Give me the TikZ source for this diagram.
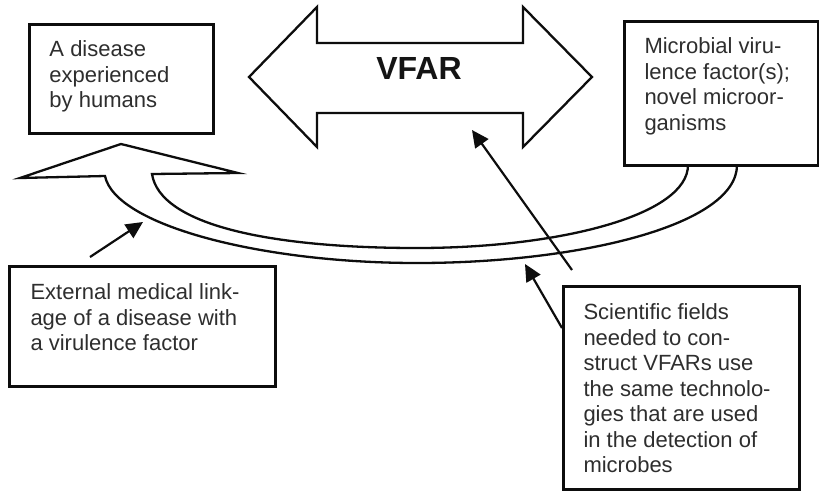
\documentclass[tikz,border=0pt]{standalone}
\usepackage{fontspec}
\setmainfont{Liberation Sans}
\usetikzlibrary{arrows.meta,calc}

% framed panel: width, height, left pad, top pad, lines
\newcommand\paneltext[5]{%
  \vbox to #2{\vskip#4\relax
    \hbox to #1{\hskip#3\relax
      \parbox[t]{\dimexpr#1-#3\relax}{\fontsize{22}{25.5}\selectfont\raggedright
        \rule{0pt}{18pt}#5}\hss}\vss}}

\tikzset{
  panel/.style={draw=black!95, line width=3pt, inner sep=0pt, anchor=north west,
                text=black!82, fill=white},
  outline/.style={draw=black!95, line width=2.3pt, line join=miter, fill=white},
  pointer/.style={draw=black!95, line width=2.2pt,
                  -{Triangle[length=17pt,width=16pt]}},
}

\begin{document}
\begin{tikzpicture}[x=1pt,y=-1pt]
\useasboundingbox[fill=white] (0,0) rectangle (819,491);

% two-headed VFAR arrow
\draw[outline] (249,77) -- (317,7) -- (317,43) -- (523,43) -- (523,7)
  -- (592,77) -- (523,147) -- (523,113) -- (317,113) -- (317,147) -- cycle;
\node[font=\bfseries\fontsize{32}{36}\selectfont, text=black!92, inner sep=0pt]
  (vfar) at (419,68.5) {VFAR};

% curved hollow arrow from the virulence factors back to the disease
\draw[outline] (121,144) -- (238,173) -- (152,174)
  .. controls (160,225) and (270,248) .. (417,248)
  .. controls (560,248) and (688,215) .. (688,165)
  -- (737,165)
  .. controls (737,225) and (580,263) .. (417,263)
  .. controls (260,263) and (115,225) .. (105,176)
  -- (20,178) -- cycle;

% text panels
\node[panel] (disease) at (28,23)
  {\paneltext{184pt}{109pt}{20pt}{14pt}{A disease\\experienced\\by humans}};
\node[panel] (microbe) at (623,20)
  {\paneltext{194pt}{144pt}{20pt}{14pt}{Microbial viru-\\lence factor(s);\\novel microor-\\ganisms}};
\node[panel] (linkage) at (8,265)
  {\paneltext{266pt}{120pt}{21pt}{15pt}{External medical link-\\age of a disease with\\a virulence factor}};
\node[panel] (fields) at (562,285)
  {\paneltext{236pt}{203pt}{20pt}{15pt}{Scientific fields\\needed to con-\\struct VFARs use\\the same technolo-\\gies that are used\\in the detection of\\microbes}};

% pointer targets
\coordinate (linktip) at (143,222);
\coordinate (fieldtip) at (525,264);
\coordinate (vfartip) at (472,130);

% pointers
\draw[pointer] ([shift={(82,-8)}]linkage.north west) -- (linktip);
\draw[pointer] ([shift={(0,43)}]fields.north west) -- (fieldtip);
\draw[pointer] ([shift={(10,-15)}]fields.north west) -- (vfartip);
\end{tikzpicture}
\end{document}
